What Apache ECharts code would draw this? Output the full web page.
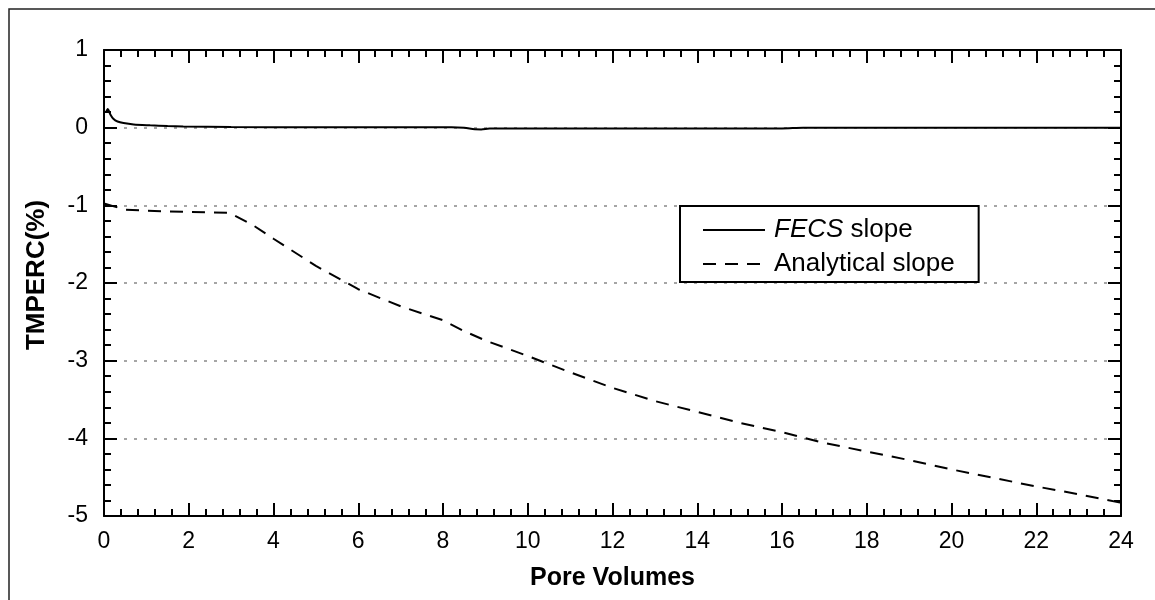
<!DOCTYPE html>
<html>
<head>
<meta charset="utf-8">
<script src="https://cdn.jsdelivr.net/npm/echarts@6/dist/echarts.min.js"></script>
<style>
  html, body { margin: 0; padding: 0; background: #fff; }
  #chart { width: 1155px; height: 600px; }
</style>
</head>
<body>
<div id="chart"></div>
<script>
  // FECS slope curve (pore volumes / TMPERC %)
  const pvFecs = [0.05, 0.09, 0.15, 0.22, 0.32, 0.46, 0.7, 1.09, 1.5, 1.87, 3, 5, 7, 8.2, 8.5, 8.75, 8.9, 9.1, 10, 12, 14, 16, 16.5, 18, 20, 22, 24];
  const fecsSlope = [0.2, 0.24, 0.17, 0.115, 0.08, 0.06, 0.042, 0.03, 0.02, 0.015, 0.008, 0.006, 0.005, 0.005, 0.0, -0.02, -0.022, -0.012, -0.01, -0.01, -0.01, -0.01, 0.0, 0.0, 0.0, 0.0, 0.0];

  // analytical slope curve
  const pvAnalytical = [0.02, 0.5, 1, 2, 2.95, 3.5, 4, 5, 6, 7, 8, 8.5, 9, 10, 11, 12, 13, 14, 15, 16, 17, 18, 19, 20, 21, 22, 23, 24];
  const analyticalSlope = [-0.98, -1.055, -1.07, -1.085, -1.095, -1.25, -1.43, -1.78, -2.08, -2.3, -2.48, -2.62, -2.74, -2.94, -3.15, -3.35, -3.52, -3.66, -3.8, -3.92, -4.06, -4.17, -4.28, -4.4, -4.51, -4.62, -4.72, -4.83];

  const xTicks = { min: 0, max: 24, step: 2 };
  const yTicks = { min: -5, max: 1, step: 1 };

  const font = 'Arial, "Liberation Sans", sans-serif';
  const chart = echarts.init(document.getElementById('chart'));

  function zip(xs, ys) {
    return xs.map((x, i) => [x, ys[i]]);
  }

  const tickCommon = {
    axisLine: { show: true, onZero: false, lineStyle: { color: '#000', width: 2 } },
    axisTick: { show: true, inside: true, length: 13, lineStyle: { color: '#000', width: 2 } },
    minorTick: { show: true, splitNumber: 5, length: 7, lineStyle: { color: '#000', width: 2 } },
  };

  const option = {
    animation: false,
    backgroundColor: '#fff',
    color: ['#000', '#000'],
    textStyle: { fontFamily: font },
    graphic: [{
      type: 'rect',
      shape: { x: 9, y: 9, width: 1400, height: 900 },
      style: { fill: 'none', stroke: '#222', lineWidth: 1.5 },
      silent: true,
      z: 0
    }],
    grid: { left: 104, top: 50, right: 34, bottom: 84 },
    legend: {
      left: 680,
      top: 206,
      orient: 'vertical',
      backgroundColor: '#fff',
      borderColor: '#000',
      borderWidth: 2,
      borderRadius: 0,
      padding: [11, 24, 5, 22],
      itemGap: 8,
      itemWidth: 62,
      itemHeight: 14,
      itemStyle: { opacity: 0 },
      lineStyle: { opacity: 1 },
      data: ['FECS slope', 'Analytical slope'],
      formatter: function (name) {
        return name === 'FECS slope' ? '{i|FECS} slope' : name;
      },
      textStyle: {
        fontFamily: font,
        fontSize: 26,
        color: '#000',
        lineHeight: 26,
        padding: [0, 0, 0, 4],
        rich: { i: { fontStyle: 'italic', fontSize: 26, fontFamily: font, color: '#000' } }
      }
    },
    xAxis: [
      Object.assign({
        type: 'value',
        min: xTicks.min, max: xTicks.max, interval: xTicks.step,
        position: 'bottom',
        name: 'Pore Volumes',
        nameLocation: 'middle',
        nameGap: 50,
        nameTextStyle: { fontFamily: font, fontSize: 25, fontWeight: 'bold', color: '#000' },
        axisLabel: { fontFamily: font, fontSize: 23, color: '#000', margin: 14 },
        splitLine: { show: false }
      }, tickCommon),
      Object.assign({
        type: 'value',
        min: xTicks.min, max: xTicks.max, interval: xTicks.step,
        position: 'top',
        axisLabel: { show: false },
        splitLine: { show: false }
      }, tickCommon)
    ],
    yAxis: [
      Object.assign({
        type: 'value',
        min: yTicks.min, max: yTicks.max, interval: yTicks.step,
        position: 'left',
        name: 'TMPERC(%)',
        nameLocation: 'middle',
        nameGap: 54,
        nameTextStyle: { fontFamily: font, fontSize: 26, fontWeight: 'bold', color: '#000', padding: [0, 0, 0, 16] },
        axisLabel: { fontFamily: font, fontSize: 23, color: '#000', margin: 16 },
        splitLine: { show: true, lineStyle: { color: '#888', width: 1.5, type: [3, 7] } }
      }, tickCommon),
      Object.assign({
        type: 'value',
        min: yTicks.min, max: yTicks.max, interval: yTicks.step,
        position: 'right',
        axisLabel: { show: false },
        splitLine: { show: false }
      }, tickCommon)
    ],
    series: [
      {
        name: 'FECS slope',
        type: 'line',
        data: zip(pvFecs, fecsSlope),
        symbol: 'none',
        smooth: 0.3,
        itemStyle: { color: '#000' },
        lineStyle: { color: '#000', width: 2, type: 'solid' },
        z: 3
      },
      {
        name: 'Analytical slope',
        type: 'line',
        data: zip(pvAnalytical, analyticalSlope),
        symbol: 'none',
        itemStyle: { color: '#000' },
        lineStyle: { color: '#000', width: 2, type: [13, 9] },
        z: 3
      }
    ]
  };

  chart.setOption(option);
</script>
</body>
</html>
